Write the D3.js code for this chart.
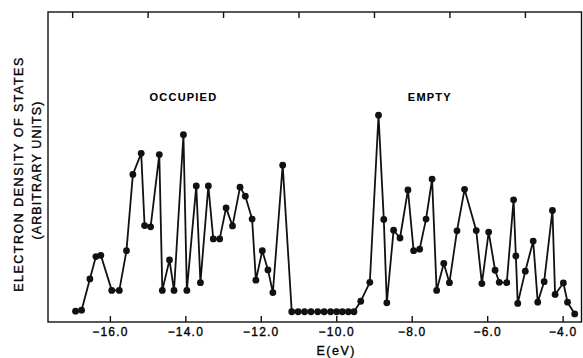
<!DOCTYPE html>
<html lang="en">
<head>
<meta charset="UTF-8">
<title>Electron density of states</title>
<script src="https://cdn.jsdelivr.net/npm/d3@7/dist/d3.min.js"></script>
<style>
  body { margin: 0; background: #fff; }
  svg text { font-family: "Liberation Sans", Arial, sans-serif; fill: #000; stroke: #000; stroke-width: 0.35px; }
</style>
</head>
<body>
<svg width="583" height="358"></svg>
<script>
// energy (eV) of each point
const energy = [
  -16.91, -16.75, -16.53, -16.37, -16.24, -15.95, -15.75, -15.56, -15.39, -15.17,
  -15.08, -14.92, -14.69, -14.61, -14.42, -14.30, -14.05, -13.96, -13.71, -13.60,
  -13.39, -13.26, -13.09, -12.92, -12.75, -12.55, -12.41, -12.23, -12.13, -11.96,
  -11.81, -11.68, -11.42,
  -11.18, -11.01, -10.84, -10.67, -10.49, -10.32, -10.15, -9.99, -9.84, -9.68, -9.53,
  -9.35, -9.11, -8.88, -8.74, -8.66, -8.48, -8.31, -8.10, -7.95, -7.79,
  -7.62, -7.46, -7.34, -7.15, -7.00, -6.80, -6.60, -6.29, -6.14, -5.96,
  -5.79, -5.68, -5.48, -5.30, -5.24, -5.19, -4.99, -4.78, -4.66, -4.49,
  -4.27, -4.20, -3.98, -3.87, -3.68
];
// density of states, arbitrary units (0 = axis, 100 = top of frame)
const dos = [
  3.5, 3.8, 13.9, 21.1, 21.5, 10.2, 10.2, 23.0, 47.6, 54.4,
  31.1, 30.7, 54.0, 10.2, 20.0, 10.2, 60.4, 10.2, 43.9, 12.7,
  43.9, 26.8, 26.8, 36.8, 31.0, 43.5, 40.6, 33.2, 13.5, 23.0,
  16.8, 9.5, 50.6,
  3.3, 3.3, 3.3, 3.3, 3.3, 3.3, 3.3, 3.3, 3.3, 3.3, 3.3,
  6.7, 12.8, 66.7, 33.1, 6.2, 29.6, 27.1, 42.6, 23.0, 23.5,
  33.2, 46.1, 10.2, 18.9, 12.7, 29.4, 42.8, 29.5, 12.4, 29.0,
  16.7, 12.8, 12.7, 39.4, 21.3, 6.0, 16.4, 26.1, 6.4, 13.0,
  36.0, 8.9, 12.6, 6.4, 2.6
];
const bottomTicks = [-16, -14, -12, -10, -8, -6, -4];
const topTicks = [-17, -15, -13, -11, -9, -7, -5];
const regionLabels = [
  {text: "OCCUPIED", e: -14.05},
  {text: "EMPTY", e: -7.52}
];

const data = energy.map((e, i) => ({e: e, v: dos[i]}));

const svg = d3.select("svg");
const frame = {left: 48, right: 581.5, top: 12, bottom: 322};

const x = d3.scaleLinear().domain([-17.64, -3.50]).range([frame.left, frame.right]);
const y = d3.scaleLinear().domain([0, 100]).range([frame.bottom, frame.top]);

// frame
svg.append("rect")
    .attr("x", frame.left).attr("y", frame.top)
    .attr("width", frame.right - frame.left).attr("height", frame.bottom - frame.top)
    .attr("fill", "none").attr("stroke", "#111").attr("stroke-width", 1.4);

const fmt = d => "\u2212" + Math.abs(d).toFixed(1);

const xAxis = svg.append("g")
    .attr("transform", `translate(0,${frame.bottom})`)
    .call(d3.axisBottom(x).tickValues(bottomTicks).tickFormat(fmt)
        .tickSizeInner(-6).tickSizeOuter(0).tickPadding(5.5));
xAxis.select(".domain").remove();
xAxis.selectAll("line").attr("stroke", "#111").attr("stroke-width", 1.4);
xAxis.selectAll("text")
    .attr("font-size", 12).attr("letter-spacing", 1.2)
    .attr("font-family", "Liberation Sans, Arial, sans-serif");

const topAxis = svg.append("g")
    .attr("transform", `translate(0,${frame.top})`)
    .call(d3.axisTop(x).tickValues(topTicks).tickFormat("")
        .tickSizeInner(-6).tickSizeOuter(0));
topAxis.select(".domain").remove();
topAxis.selectAll("line").attr("stroke", "#111").attr("stroke-width", 1.4);

// axis titles
svg.append("text")
    .attr("x", x(-10)).attr("y", 355)
    .attr("text-anchor", "middle")
    .attr("font-size", 12.5).attr("letter-spacing", 1.5)
    .text("E(eV)");

svg.append("text")
    .attr("transform", "translate(22.5,174) rotate(-90)")
    .attr("text-anchor", "middle")
    .attr("font-size", 12.5).attr("letter-spacing", 1.5)
    .text("ELECTRON DENSITY OF STATES");

svg.append("text")
    .attr("transform", "translate(40.5,170) rotate(-90)")
    .attr("text-anchor", "middle")
    .attr("font-size", 12.5).attr("letter-spacing", 1.1)
    .text("(ARBITRARY UNITS)");

svg.selectAll(".region")
    .data(regionLabels)
    .join("text")
    .attr("class", "region")
    .attr("x", d => x(d.e)).attr("y", 101)
    .attr("text-anchor", "middle")
    .attr("font-size", 11).attr("font-weight", "bold").attr("letter-spacing", 1.2)
    .style("stroke-width", "0.1px")
    .text(d => d.text);

// curve
const line = d3.line().x(d => x(d.e)).y(d => y(d.v));
svg.append("path")
    .datum(data)
    .attr("d", line)
    .attr("fill", "none")
    .attr("stroke", "#111")
    .attr("stroke-width", 1.8)
    .attr("stroke-linejoin", "round");

svg.selectAll(".pt")
    .data(data)
    .join("circle")
    .attr("class", "pt")
    .attr("cx", d => x(d.e))
    .attr("cy", d => y(d.v))
    .attr("r", 3.4)
    .attr("fill", "#111");
</script>
</body>
</html>
